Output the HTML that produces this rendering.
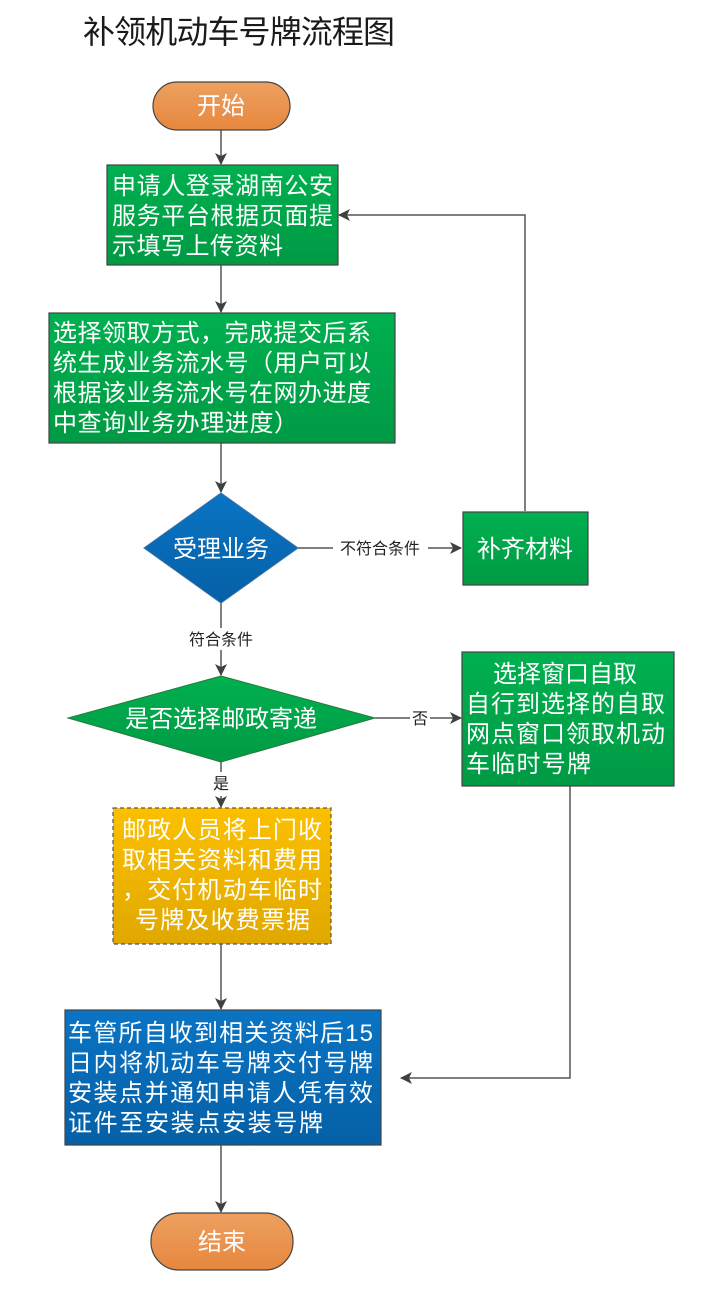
<!DOCTYPE html>
<html><head><meta charset="utf-8"><style>
html,body{margin:0;padding:0;background:#fff;}
svg{display:block;}
text{font-family:"Liberation Sans","Noto Sans CJK SC",sans-serif;}
.w{fill:#fff;font-size:24px;}
.l{fill:#222;font-size:16px;}
</style></head><body>
<svg width="712" height="1310" viewBox="0 0 712 1310" xmlns="http://www.w3.org/2000/svg">
<defs>
<linearGradient id="g" x1="0" y1="0" x2="0" y2="1"><stop offset="0" stop-color="#00b050"/><stop offset="1" stop-color="#009a44"/></linearGradient>
<linearGradient id="b" x1="0" y1="0" x2="0" y2="1"><stop offset="0" stop-color="#0a74c4"/><stop offset="1" stop-color="#0560a6"/></linearGradient>
<linearGradient id="o" x1="0" y1="0" x2="0" y2="1"><stop offset="0" stop-color="#eea060"/><stop offset="1" stop-color="#e6873e"/></linearGradient>
<linearGradient id="y" x1="0" y1="0" x2="0" y2="1"><stop offset="0" stop-color="#fcc000"/><stop offset="1" stop-color="#e0a800"/></linearGradient>
<marker id="a" markerWidth="12" markerHeight="12" refX="11" refY="6" orient="auto" markerUnits="userSpaceOnUse"><path d="M0,0 L12,6 L0,12 L3,6 Z" fill="#404040"/></marker>
</defs>

<text x="83" y="43" font-size="32" fill="#1a1a1a" textLength="312">补领机动车号牌流程图</text>

<g stroke="#555" stroke-width="1.5" fill="none">
<line x1="221" y1="130" x2="221" y2="164" marker-end="url(#a)"/>
<line x1="221" y1="265" x2="221" y2="312" marker-end="url(#a)"/>
<line x1="221" y1="443" x2="221" y2="492" marker-end="url(#a)"/>
<line x1="298" y1="548" x2="333" y2="548"/>
<line x1="428" y1="548" x2="461" y2="548" marker-end="url(#a)"/>
<polyline points="525,511 525,215 339,215" marker-end="url(#a)"/>
<line x1="221" y1="603" x2="221" y2="628"/>
<line x1="221" y1="650" x2="221" y2="675" marker-end="url(#a)"/>
<line x1="375" y1="718" x2="410" y2="718"/>
<line x1="430" y1="718" x2="461" y2="718" marker-end="url(#a)"/>
<line x1="221" y1="762" x2="221" y2="772"/>
<line x1="221" y1="796" x2="221" y2="807" marker-end="url(#a)"/>
<line x1="221" y1="944" x2="221" y2="1009" marker-end="url(#a)"/>
<polyline points="570,786 570,1078 401,1078" marker-end="url(#a)"/>
<line x1="221" y1="1145" x2="221" y2="1212" marker-end="url(#a)"/>
</g>

<rect x="153" y="82" width="137" height="48" rx="24" fill="url(#o)" stroke="#444" stroke-width="1.2"/>
<text class="w" x="221" y="114" text-anchor="middle">开始</text>

<rect x="107" y="165" width="231" height="100" fill="url(#g)" stroke="#444" stroke-width="1.2"/>
<text class="w" x="112" y="194" textLength="221">申请人登录湖南公安</text>
<text class="w" x="112" y="224" textLength="221">服务平台根据页面提</text>
<text class="w" x="112" y="254" textLength="171">示填写上传资料</text>

<rect x="49" y="313" width="346" height="130" fill="url(#g)" stroke="#444" stroke-width="1.2"/>
<text class="w" x="53" y="341" textLength="318">选择领取方式，完成提交后系</text>
<text class="w" x="53" y="371" textLength="318">统生成业务流水号（用户可以</text>
<text class="w" x="53" y="401" textLength="318">根据该业务流水号在网办进度</text>
<text class="w" x="53" y="431" textLength="245">中查询业务办理进度）</text>

<polygon points="221,493 298,548 221,603 144,548" fill="url(#b)" stroke="#3a6ea8" stroke-width="1"/>
<text class="w" x="221" y="557" text-anchor="middle">受理业务</text>
<text class="l" x="380" y="554" text-anchor="middle">不符合条件</text>

<rect x="463" y="512" width="125" height="73" fill="url(#g)" stroke="#444" stroke-width="1.2"/>
<text class="w" x="525" y="557" text-anchor="middle">补齐材料</text>

<text class="l" x="221" y="645" text-anchor="middle">符合条件</text>

<polygon points="221,676 375,718 221,762 68,718" fill="url(#g)" stroke="#2a7a3a" stroke-width="1"/>
<text class="w" x="221" y="727" text-anchor="middle">是否选择邮政寄递</text>
<text class="l" x="420" y="724" text-anchor="middle">否</text>

<rect x="462" y="652" width="212" height="134" fill="url(#g)" stroke="#444" stroke-width="1.2"/>
<text class="w" x="565" y="682" text-anchor="middle">选择窗口自取</text>
<text class="w" x="466" y="712" textLength="199">自行到选择的自取</text>
<text class="w" x="466" y="742" textLength="199">网点窗口领取机动</text>
<text class="w" x="466" y="772" textLength="125">车临时号牌</text>

<text class="l" x="221" y="789" text-anchor="middle">是</text>

<rect x="113" y="808" width="218" height="136" fill="url(#y)" stroke="#555" stroke-width="1.2" stroke-dasharray="4,3"/>
<text class="w" x="122" y="838" textLength="200">邮政人员将上门收</text>
<text class="w" x="122" y="868" textLength="200">取相关资料和费用</text>
<text class="w" x="122" y="898" textLength="200">，交付机动车临时</text>
<text class="w" x="135" y="928" textLength="175">号牌及收费票据</text>

<rect x="65" y="1010" width="316" height="135" fill="url(#b)" stroke="#444" stroke-width="1.2"/>
<text class="w" x="68" y="1041" textLength="305">车管所自收到相关资料后15</text>
<text class="w" x="68" y="1071" textLength="305">日内将机动车号牌交付号牌</text>
<text class="w" x="68" y="1101" textLength="305">安装点并通知申请人凭有效</text>
<text class="w" x="68" y="1131" textLength="255">证件至安装点安装号牌</text>

<rect x="151" y="1213" width="142" height="57" rx="28" fill="url(#o)" stroke="#444" stroke-width="1.2"/>
<text class="w" x="222" y="1250" text-anchor="middle">结束</text>
</svg>
</body></html>
